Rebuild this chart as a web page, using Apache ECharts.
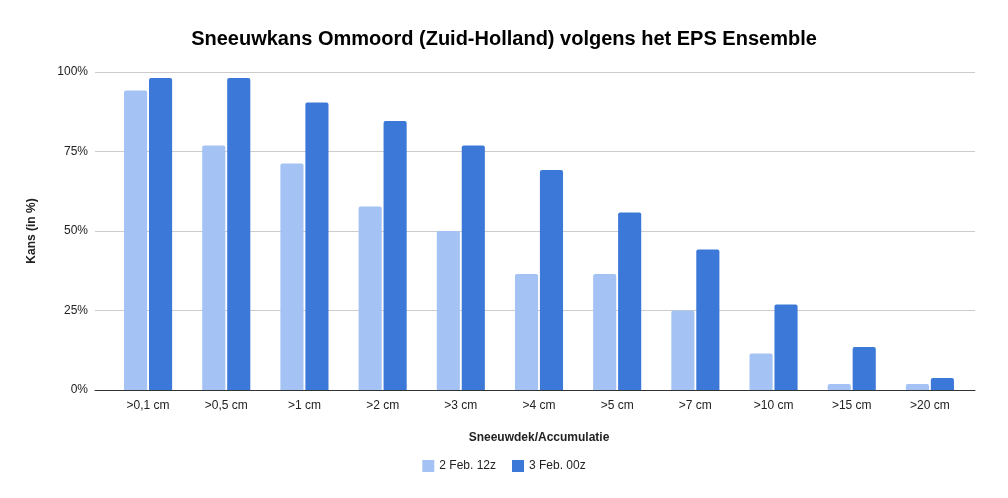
<!DOCTYPE html>
<html>
<head>
<meta charset="utf-8">
<script src="https://cdn.jsdelivr.net/npm/echarts@6/dist/echarts.min.js"></script>
<style>
  html, body { margin: 0; padding: 0; background: #fff; }
  #chart { width: 1008px; height: 498px; }
</style>
</head>
<body>
<div id="chart"></div>
<script>
// categorieën en kansen (52 leden EPS)
const categories = ['>0,1 cm', '>0,5 cm', '>1 cm', '>2 cm', '>3 cm', '>4 cm', '>5 cm', '>7 cm', '>10 cm', '>15 cm', '>20 cm'];
const run1Values = [94.2, 76.9, 71.2, 57.7, 50.0, 36.5, 36.5, 25.0, 11.5, 1.9, 1.9];
const run2Values = [98.1, 98.1, 90.4, 84.6, 76.9, 69.2, 55.8, 44.2, 26.9, 13.5, 3.8];
const seriesNames = ['2 Feb. 12z', '3 Feb. 00z'];
const yTicks = [0, 25, 50, 75, 100];

const chart = echarts.init(document.getElementById('chart'));
const font = 'Arial, "Liberation Sans", sans-serif';

// grid 0: rasterlijnen + y-as, grid 1: de staven (iets ingesprongen)
const option = {
  backgroundColor: '#fff',
  textStyle: { fontFamily: font },
  title: {
    text: 'Sneeuwkans Ommoord (Zuid-Holland) volgens het EPS Ensemble',
    left: 'center',
    top: 24,
    textStyle: { fontSize: 20, fontWeight: 'bold', color: '#000', fontFamily: font }
  },
  legend: {
    bottom: 21,
    left: 'center',
    itemWidth: 12,
    itemHeight: 12,
    itemGap: 16,
    icon: 'rect',
    textStyle: { fontSize: 12, color: '#222', fontFamily: font },
    data: seriesNames
  },
  grid: [
    { left: 95, right: 33, top: 72, bottom: 108 },
    { left: 109, right: 39, top: 72, bottom: 108 }
  ],
  xAxis: [
    {
      type: 'category',
      gridIndex: 0,
      data: categories,
      axisLine: { lineStyle: { color: '#333' } },
      axisTick: { show: false },
      axisLabel: { show: false }
    },
    {
      type: 'category',
      gridIndex: 1,
      data: categories,
      name: 'Sneeuwdek/Accumulatie',
      nameLocation: 'middle',
      nameGap: 42,
      nameTextStyle: { fontSize: 12, fontWeight: 'bold', color: '#222', fontFamily: font },
      axisLine: { show: false },
      axisTick: { show: false },
      axisLabel: { color: '#222', fontSize: 12, margin: 10, fontFamily: font }
    }
  ],
  yAxis: [
    {
      type: 'value',
      gridIndex: 0,
      min: yTicks[0],
      max: yTicks[yTicks.length - 1],
      interval: 25,
      name: 'Kans (in %)',
      nameLocation: 'middle',
      nameGap: 57,
      nameTextStyle: { fontSize: 12, fontWeight: 'bold', color: '#222', fontFamily: font },
      axisLine: { show: false },
      axisTick: { show: false },
      axisLabel: { color: '#222', fontSize: 12, margin: 7, formatter: v => v + '%', fontFamily: font },
      splitLine: { lineStyle: { color: '#ccc' } }
    },
    {
      type: 'value',
      gridIndex: 1,
      min: yTicks[0],
      max: yTicks[yTicks.length - 1],
      interval: 25,
      show: false,
      splitLine: { show: false }
    }
  ],
  series: [
    {
      name: seriesNames[0],
      type: 'bar',
      xAxisIndex: 1,
      yAxisIndex: 1,
      data: run1Values,
      barCategoryGap: '38.5%',
      barGap: '8%',
      itemStyle: { color: '#a4c2f4', borderRadius: [2, 2, 0, 0] }
    },
    {
      name: seriesNames[1],
      type: 'bar',
      xAxisIndex: 1,
      yAxisIndex: 1,
      data: run2Values,
      itemStyle: { color: '#3c78d8', borderRadius: [2, 2, 0, 0] }
    }
  ]
};

option && chart.setOption(option);
</script>
</body>
</html>
